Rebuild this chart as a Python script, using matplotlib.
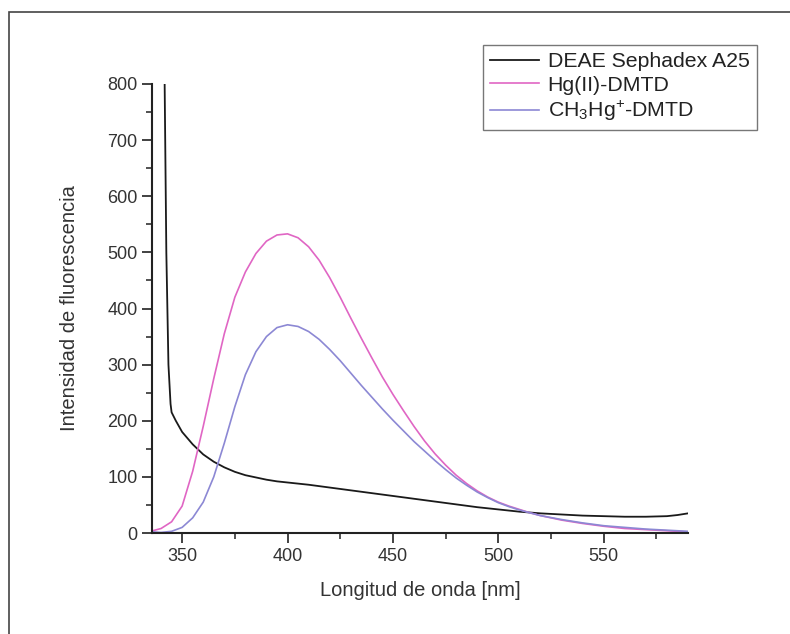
import matplotlib
matplotlib.use("Agg")
import matplotlib.pyplot as plt
from matplotlib.patches import Rectangle
from matplotlib.ticker import MultipleLocator

plt.rcParams["font.family"] = ["Liberation Sans", "DejaVu Sans"]
plt.rcParams["mathtext.fontset"] = "custom"
plt.rcParams["mathtext.rm"] = "Liberation Sans"
plt.rcParams["mathtext.default"] = "regular"

# DEAE Sephadex A25 (blank resin)
wl_blank = [341.7, 342.5, 343.5, 344.5, 345, 347, 350, 355, 360, 365, 370, 375,
            380, 385, 390, 395, 400, 410, 420, 430, 440, 450, 460, 470, 480,
            490, 500, 510, 520, 530, 540, 550, 560, 570, 580, 585, 590]
i_blank = [800, 500, 300, 230, 215, 200, 180, 158, 140, 127, 117, 109,
           103, 99, 95, 92, 90, 86, 81, 76, 71, 66, 61, 56, 51,
           46, 42, 38, 35, 33, 31, 30, 29, 29, 30, 32, 35]

# common wavelength grid for the two complexes
wl = [336, 340, 345, 350, 355, 360, 365, 370, 375, 380, 385, 390, 395, 400,
      405, 410, 415, 420, 425, 430, 435, 440, 445, 450, 455, 460, 465, 470,
      475, 480, 485, 490, 495, 500, 505, 510, 515, 520, 530, 540, 550, 560,
      570, 580, 590]
i_hg = [4, 8, 20, 48, 110, 190, 275, 355, 420, 465, 498, 520, 531, 533,
        526, 510, 486, 455, 420, 383, 347, 312, 278, 247, 218, 190, 164, 141,
        121, 103, 88, 75, 64, 55, 48, 42, 36, 31, 23, 17, 12, 8,
        6, 4, 2]
i_mehg = [2, 1, 3, 10, 27, 55, 100, 160, 225, 282, 323, 350, 366, 371,
          368, 359, 345, 327, 307, 285, 263, 242, 221, 201, 182, 163, 146, 129,
          113, 98, 85, 73, 63, 54, 47, 41, 36, 31, 24, 18, 13, 10,
          7, 5, 3]

labels = ["DEAE Sephadex A25", "Hg(II)-DMTD", "CH$_3$Hg$^{+}$-DMTD"]
colors = ["#1a1a1a", "#e066c4", "#8c88d4"]

fig = plt.figure(figsize=(7.9, 6.34), dpi=100)
ax = fig.add_axes([152 / 790, 1 - 533 / 634, (688 - 152) / 790, (533 - 84) / 634])

ax.plot(wl_blank, i_blank, color=colors[0], lw=1.3, label=labels[0])
ax.plot(wl, i_hg, color=colors[1], lw=1.2, label=labels[1])
ax.plot(wl, i_mehg, color=colors[2], lw=1.2, label=labels[2])

ax.set_xlim(335.7, 590)
ax.set_ylim(0, 800)
ax.xaxis.set_major_locator(MultipleLocator(50))
ax.xaxis.set_minor_locator(MultipleLocator(25))
ax.yaxis.set_major_locator(MultipleLocator(100))
ax.yaxis.set_minor_locator(MultipleLocator(50))
ax.tick_params(which="major", direction="out", length=7, width=1.3,
               labelsize=13, colors="#333333")
ax.tick_params(which="minor", direction="out", length=4, width=1.2,
               colors="#333333")
for side in ("top", "right"):
    ax.spines[side].set_visible(False)
for side in ("left", "bottom"):
    ax.spines[side].set_linewidth(1.5)
    ax.spines[side].set_color("#222222")

ax.set_xlabel("Longitud de onda [nm]", fontsize=14.5, labelpad=12,
              color="#333333")
ax.set_ylabel("Intensidad de fluorescencia", fontsize=14.5, labelpad=20,
              color="#333333")

leg = ax.legend(loc="upper right", bbox_to_anchor=(757 / 790, 1 - 45 / 634),
                bbox_transform=fig.transFigure, borderaxespad=0, fontsize=15.3,
                frameon=True, fancybox=False, handlelength=2.3,
                handletextpad=0.4, labelspacing=0.2, borderpad=0.35)
leg.get_frame().set_edgecolor("#555555")
leg.get_frame().set_linewidth(1.0)
for t in leg.get_texts():
    t.set_color("#222222")

# outer frame of the scanned figure
fig.patches.append(Rectangle((9 / 790, -0.05), 1.1, 1.05 - 12 / 634,
                             transform=fig.transFigure, fill=False,
                             edgecolor="#444444", lw=1.2))

fig.savefig("out.png", dpi=100)
